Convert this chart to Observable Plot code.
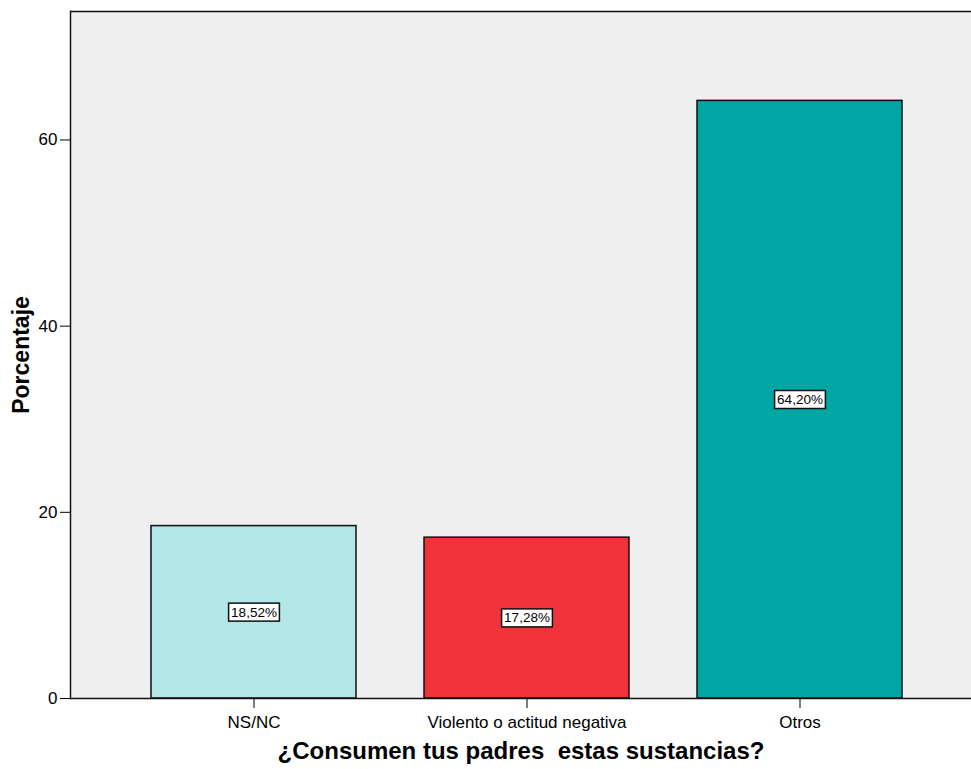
<!DOCTYPE html>
<html>
<head>
<meta charset="utf-8">
<script src="https://cdn.jsdelivr.net/npm/d3@7"></script>
<script src="https://cdn.jsdelivr.net/npm/@observablehq/plot@0.6"></script>
<style>
  html, body { margin: 0; padding: 0; background: #ffffff; }
  #chart svg { display: block; }
</style>
</head>
<body>
<div id="chart"></div>
<script>
const categories = ["NS/NC", "Violento o actitud negativa", "Otros"];
const percentages = [18.52, 17.28, 64.20];
const barColors = ["#b3e6e6", "#f0323a", "#00a6a5"];
const yTicks = [0, 20, 40, 60];
const yMax = 73.8;
const xTitle = "¿Consumen tus padres \u00a0estas sustancias?";
const yTitle = "Porcentaje";

const data = categories.map((c, i) => ({
  category: c,
  value: percentages[i],
  color: barColors[i],
  label: percentages[i].toFixed(2).replace(".", ",") + "%"
}));

const chart = Plot.plot({
  width: 971,
  height: 769,
  marginLeft: 70,
  marginRight: 0,
  marginTop: 11,
  marginBottom: 71,
  style: {
    fontFamily: "'Liberation Sans', Arial, sans-serif",
    fontSize: "17px",
    color: "#000",
    background: "#ffffff",
    overflow: "visible"
  },
  x: { domain: categories, range: [150, 902], paddingInner: 0.25, paddingOuter: 0, label: null },
  y: { domain: [0, yMax], label: null },
  color: { type: "identity" },
  marks: [
    Plot.frame({ fill: "#efefef" }),
    Plot.barY(data, { x: "category", y: "value", fill: "color", stroke: "#111", strokeWidth: 1.5 }),
    Plot.ruleY([0, yMax], { stroke: "#111", strokeWidth: 1.5 }),
    Plot.frame({ anchor: "left", stroke: "#111", strokeWidth: 1.5 }),
    Plot.axisY({ ticks: yTicks, tickSize: 10, tickPadding: 3, label: null, tickFormat: d => d }),
    Plot.axisX({ tickSize: 10, tickPadding: 7, label: null }),
    Plot.text(data, { x: "category", y: d => d.value / 2, text: "label", fontSize: 13.5, fill: "#000" }),
    Plot.text([xTitle], { text: d => d, frameAnchor: "bottom", dy: 60, fontSize: 24, fontWeight: "bold", fill: "#000" }),
    Plot.text([yTitle], { text: d => d, frameAnchor: "left", textAnchor: "middle", dx: -49, rotate: -90, fontSize: 23, fontWeight: "bold", fill: "#000" })
  ]
});

document.getElementById("chart").appendChild(chart);

// white boxes behind value labels
chart.querySelectorAll("text").forEach(t => {
  if (/%$/.test(t.textContent) && t.textContent.length < 10) {
    const bb = t.getBBox();
    const r = document.createElementNS("http://www.w3.org/2000/svg", "rect");
    r.setAttribute("x", bb.x - 2.5);
    r.setAttribute("y", bb.y - 1.5);
    r.setAttribute("width", bb.width + 5);
    r.setAttribute("height", bb.height + 3);
    r.setAttribute("fill", "#ffffff");
    r.setAttribute("stroke", "#111");
    r.setAttribute("stroke-width", 1.5);
    const tr = t.getAttribute("transform");
    if (tr) r.setAttribute("transform", tr);
    t.parentNode.insertBefore(r, t);
  }
});
</script>
</body>
</html>
